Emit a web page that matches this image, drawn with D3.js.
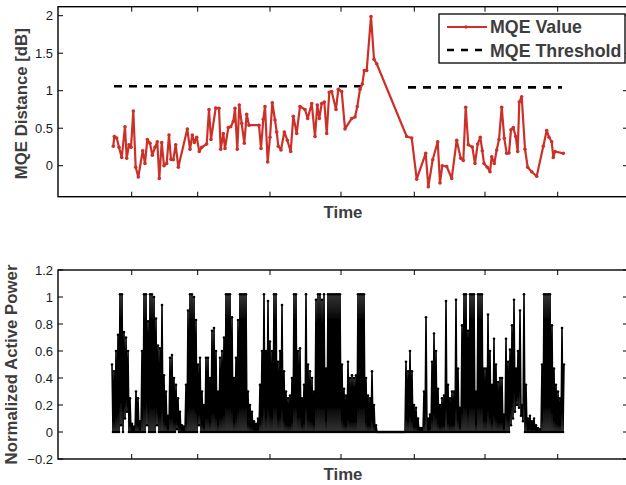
<!DOCTYPE html>
<html><head><meta charset="utf-8">
<script src="https://cdn.jsdelivr.net/npm/d3@7"></script>
<style>
body{margin:0;background:#fff}
svg{display:block}
text{font-family:"Liberation Sans",Arial,Helvetica,sans-serif}
</style>
</head><body>
<svg id="c" width="626" height="485"></svg>
<script>
// ---------- DATA ----------
// MQE series (time in sample units, value in dB)
const mqeTime = [
 55.3,56.3,58.7,61.0,63.7,67.0,68.7,71.0,73.0,75.3,
 77.7,80.3,84.7,87.0,89.3,92.0,94.3,97.0,99.3,101.3,
 103.7,106.0,108.7,111.0,113.0,115.3,117.7,120.3,129.3,132.0,
 134.3,136.3,138.7,141.3,143.7,148.7,151.0,153.0,157.7,161.0,
 162.7,165.3,167.0,170.3,172.7,175.3,177.0,179.3,181.3,183.7,
 186.3,188.7,191.0,201.0,203.0,205.3,207.0,209.7,212.0,214.3,
 217.0,218.7,220.3,223.0,226.3,229.3,232.7,235.3,238.7,242.0,
 247.0,249.7,253.7,257.0,259.3,261.3,263.7,266.3,268.7,271.3,
 273.7,278.0,280.3,283.7,287.0,293.7,297.0,299.3,302.0,304.3,
 306.3,308.7,313.0,316.0,318.7,348.7,353.7,358.7,367.7,370.3,
 374.7,379.7,382.0,384.3,388.7,393.7,398.7,402.7,405.3,407.7,
 410.3,414.3,417.0,419.7,422.3,424.3,426.0,429.3,432.0,433.7,
 436.3,438.7,441.0,443.7,446.3,448.7,451.0,453.0,455.3,457.7,
 459.7,461.3,463.7,467.0,469.7,473.7,478.7,485.3,488.7,491.0,
 493.7,495.3,497.0,505.3
];
const mqeValue = [
 0.26,0.39,0.37,0.245,0.11,0.52,0.10,0.28,0.245,0.73,
 -0.02,-0.15,0.20,0.03,0.35,0.30,0.14,0.245,0.32,-0.17,
 0.31,0.00,0.03,0.41,0.085,0.08,0.28,-0.02,0.49,0.22,
 0.41,0.31,0.38,0.19,0.245,0.29,0.75,0.35,0.77,0.765,
 0.22,0.43,0.23,0.51,0.52,0.59,0.765,0.22,0.81,0.565,
 0.30,0.685,0.54,0.54,0.23,0.62,0.79,0.05,0.38,0.84,
 0.61,0.45,0.26,0.21,0.45,0.34,0.19,0.66,0.43,0.79,
 0.75,0.63,0.83,0.39,0.81,0.63,0.83,0.85,0.43,0.98,
 0.99,0.75,1.02,0.99,0.49,0.63,0.65,0.79,1.02,1.09,
 1.27,1.27,1.99,1.42,1.36,0.39,0.37,-0.18,0.165,-0.28,
 0.08,0.32,-0.23,0.00,-0.01,-0.17,0.34,0.10,0.07,0.78,
 0.28,0.25,0.03,0.29,0.38,0.20,0.03,-0.02,-0.08,0.12,
 0.03,0.21,0.35,0.78,0.365,0.165,0.17,0.48,0.51,0.39,
 0.19,0.85,0.92,0.22,-0.02,-0.08,-0.14,0.26,0.47,0.38,
 0.32,0.11,0.19,0.165
];
// MQE threshold segments
const thrStart = [56, 350];
const thrEnd   = [310, 504];
const thrValue = [1.06, 1.045];

// Normalized active power: local maxima / minima every 2 samples, starting at t=54
const powerStart = 54;
const powerPeak = [
 0.50,0.45,0.60,0.72,1.02,1.02,0.74,0.70,0.60,0.25,
 0.06,0.04,0.30,0.25,0.08,0.60,1.02,1.02,0.82,1.02,
 1.02,1.00,0.84,0.64,0.62,0.94,0.42,0.30,0.12,0.55,
 0.57,0.40,0.35,0.25,0.15,0.05,0.04,0.35,0.90,1.02,
 1.02,1.00,0.83,0.50,0.55,0.30,0.20,0.55,0.55,0.40,
 0.75,0.77,0.60,0.30,0.55,0.60,0.70,1.02,1.02,1.02,
 0.85,0.40,0.55,0.83,1.02,1.02,1.02,1.02,0.30,0.20,
 0.15,0.08,0.06,0.10,0.35,0.60,1.02,0.60,0.97,0.67,
 0.60,1.02,1.02,0.52,0.60,0.94,0.45,0.30,0.25,0.27,
 0.40,1.02,1.02,0.60,0.62,0.25,0.35,1.02,0.50,0.45,
 0.40,0.30,0.98,1.02,1.02,0.98,1.02,0.47,1.02,1.02,
 1.02,1.02,1.02,1.02,1.02,0.50,0.32,0.27,0.52,0.40,
 0.42,0.40,0.42,1.02,1.02,1.02,1.02,0.40,0.27,0.25,
 0.45,0.20,0.05,0,0,0,0,0,0,0,
 0,0,0,0,0,0,0,0.52,0.45,0.60,
 0.45,0.20,0.18,0.10,0.03,0.03,0.30,0.85,0.10,0.13,
 0.52,0.73,0.60,0.32,0.20,0.25,0.27,0.97,0.35,0.25,
 0.30,0.30,0.98,0.47,0.18,0.79,1.02,1.02,0.75,1.02,
 1.02,1.02,0.30,1.02,1.02,1.02,0.47,0.47,0.87,0.60,
 0.35,0.69,0.50,0.37,0.40,0.40,0.13,0.69,0.52,0.61,
 0.79,0.98,0.47,0.60,0.90,0.20,1.02,0.35,0.10,0.12,
 0.08,0.10,0.05,0.03,0.02,0.50,1.02,1.02,1.02,1.02,
 0.79,0.47,0.35,0.30,0.25,0.77,0.50
];
const powerTrough = [
 0,0,0,0,0.05,0,0.10,0.15,0,0,
 0,0,0,0,0,0,0,0.05,0,0,
 0,0,0.05,0,0,0,0,0,0,0,
 0,0,0.02,0,0,0,0,0,0,0,
 0,0,0,0.05,0,0,0,0,0,0,
 0,0,0,0,0,0,0,0,0,0,
 0,0,0,0,0,0,0,0,0,0,
 0,0,0,0,0,0,0,0,0,0,
 0,0,0,0,0,0,0,0,0,0,
 0,0,0,0,0,0,0,0,0,0,
 0,0,0,0,0,0,0,0,0,0,
 0,0,0,0,0,0,0,0,0,0,
 0,0,0,0,0,0,0,0,0,0,
 0,0,0,0,0,0,0,0,0,0,
 0,0,0,0,0,0,0,0,0,0,
 0,0,0,0,0,0,0,0,0,0,
 0,0,0,0,0,0,0,0,0,0,
 0,0,0,0,0,0,0,0,0,0,
 0,0,0,0,0,0,0,0,0,0,
 0,0,0,0,0,0,0,0,0,0.05,
 0.10,0.15,0.20,0.18,0.12,0.08,0,0,0,0,
 0,0,0,0,0,0,0,0,0,0,
 0,0,0,0,0,0,0
];

const timeTicks  = [73.7,139.7,212,283,356.3,427,499.7];
const mqeTicks   = [0,0.5,1,1.5,2];
const mqeTickLabels = ["0","0.5","1","1.5","2"];
const powerTicks = [-0.2,0,0.2,0.4,0.6,0.8,1,1.2];
const powerTickLabels = ["\u22120.2","0","0.2","0.4","0.6","0.8","1","1.2"];

// ---------- DRAW ----------
const svg = d3.select("#c");
const L = 58, R = 628;
const RED = "#cc3129";
const LABEL = "#3d3d3d";

const x = d3.scaleLinear().domain([0, 570]).range([L, R]);

function frame(g, y, top, bot, yTicks, yLabels) {
  const tl = 5;
  g.selectAll(".xt").data(timeTicks).join("line")
    .attr("x1", d => x(d)).attr("x2", d => x(d)).attr("y1", bot).attr("y2", bot - tl)
    .attr("stroke", "#000").attr("stroke-width", 1);
  g.selectAll(".xtt").data(timeTicks).join("line")
    .attr("x1", d => x(d)).attr("x2", d => x(d)).attr("y1", top).attr("y2", top + tl)
    .attr("stroke", "#000").attr("stroke-width", 1);
  g.selectAll(".yt").data(yTicks).join("line")
    .attr("x1", L).attr("x2", L + tl).attr("y1", d => y(d)).attr("y2", d => y(d))
    .attr("stroke", "#000").attr("stroke-width", 1);
  g.selectAll(".ytr").data(yTicks).join("line")
    .attr("x1", R).attr("x2", R - tl).attr("y1", d => y(d)).attr("y2", d => y(d))
    .attr("stroke", "#000").attr("stroke-width", 1);
  g.selectAll(".yl").data(yTicks).join("text")
    .attr("x", L - 5).attr("y", d => y(d)).attr("dy", "0.35em")
    .attr("text-anchor", "end").attr("font-size", 13).attr("fill", "#1a1a1a")
    .text((d, i) => yLabels[i]);
  g.append("rect").attr("x", L).attr("y", top).attr("width", R - L).attr("height", bot - top)
    .attr("fill", "none").attr("stroke", "#000").attr("stroke-width", 1.4);
}

// ---- Top panel ----
const t1 = 6.7, b1 = 196.7;
const y1 = d3.scaleLinear().domain([-0.413, 2.12]).range([b1, t1]);
const g1 = svg.append("g");

g1.selectAll(".thr").data(thrValue).join("line")
  .attr("x1", (d, i) => x(thrStart[i])).attr("x2", (d, i) => x(thrEnd[i]))
  .attr("y1", d => y1(d)).attr("y2", d => y1(d))
  .attr("stroke", "#000").attr("stroke-width", 2.6).attr("stroke-dasharray", "8,7");

const mqe = mqeTime.map((t, i) => [t, mqeValue[i]]);
g1.append("path").datum(mqe)
  .attr("d", d3.line().x(d => x(d[0])).y(d => y1(d[1])))
  .attr("fill", "none").attr("stroke", RED).attr("stroke-width", 2.2).attr("stroke-linejoin", "round");
g1.selectAll(".mk").data(mqe).join("circle")
  .attr("cx", d => x(d[0])).attr("cy", d => y1(d[1])).attr("r", 1.8).attr("fill", RED);

frame(g1, y1, t1, b1, mqeTicks, mqeTickLabels);

g1.append("text").attr("transform", `translate(27,${(t1 + b1) / 2 + 2}) rotate(-90)`)
  .attr("text-anchor", "middle").attr("font-size", 16.8).attr("font-weight", "bold").attr("fill", LABEL)
  .text("MQE Distance [dB]");
g1.append("text").attr("x", 343).attr("y", 218).attr("text-anchor", "middle")
  .attr("font-size", 16.8).attr("font-weight", "bold").attr("fill", LABEL).text("Time");

// legend
const lg = g1.append("g");
lg.append("rect").attr("x", 439).attr("y", 14).attr("width", 186).attr("height", 49)
  .attr("fill", "#fff").attr("stroke", "#000").attr("stroke-width", 1.3);
lg.append("line").attr("x1", 447).attr("x2", 487).attr("y1", 27).attr("y2", 27)
  .attr("stroke", RED).attr("stroke-width", 2.2);
lg.append("circle").attr("cx", 466).attr("cy", 27).attr("r", 1.8).attr("fill", RED);
lg.append("line").attr("x1", 447).attr("x2", 487).attr("y1", 50).attr("y2", 50)
  .attr("stroke", "#000").attr("stroke-width", 2.6).attr("stroke-dasharray", "7,7");
lg.append("text").attr("x", 490).attr("y", 33).attr("font-size", 17.8).attr("font-weight", "bold")
  .attr("fill", LABEL).text("MQE Value");
lg.append("text").attr("x", 490).attr("y", 56.5).attr("font-size", 17.8).attr("font-weight", "bold")
  .attr("fill", LABEL).text("MQE Threshold");

// ---- Bottom panel ----
const t2 = 270, b2 = 459;
const y2 = d3.scaleLinear().domain([-0.2, 1.2]).range([b2, t2]);
const g2 = svg.append("g");
const power = [];
powerPeak.forEach((p, k) => {
  power.push([powerStart + 2 * k, p]);
  power.push([powerStart + 2 * k + 1, powerTrough[k]]);
});
power.pop();
g2.append("path").datum(power)
  .attr("d", d3.line().x(d => x(d[0])).y(d => y2(d[1])))
  .attr("fill", "none").attr("stroke", "#000").attr("stroke-width", 1.6)
  .attr("stroke-linejoin", "bevel");
g2.selectAll(".pk").data(power).join("circle")
  .attr("cx", d => x(d[0])).attr("cy", d => y2(d[1])).attr("r", 1.3).attr("fill", "#000");

frame(g2, y2, t2, b2, powerTicks, powerTickLabels);

g2.append("text").attr("transform", `translate(17,${(t2 + b2) / 2}) rotate(-90)`)
  .attr("text-anchor", "middle").attr("font-size", 16.8).attr("font-weight", "bold").attr("fill", LABEL)
  .text("Normalized Active Power");
g2.append("text").attr("x", 343).attr("y", 480).attr("text-anchor", "middle")
  .attr("font-size", 16.8).attr("font-weight", "bold").attr("fill", LABEL).text("Time");
</script>
</body></html>
